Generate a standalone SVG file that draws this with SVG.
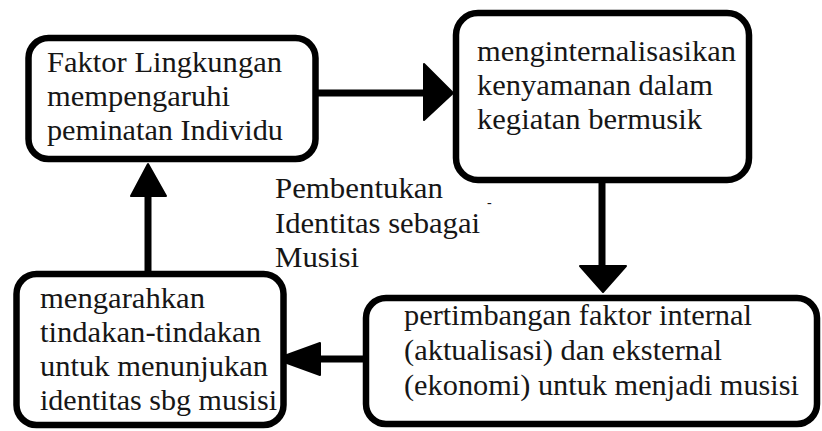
<svg xmlns="http://www.w3.org/2000/svg" width="822" height="431" viewBox="0 0 822 431">
<style>
.box{fill:#fff;stroke:#000;stroke-width:6.5}
.ln{stroke:#000;stroke-width:7;fill:none}
.hd{fill:#000;stroke:#000;stroke-width:2;stroke-linejoin:round}
.t{font-family:'Liberation Serif','DejaVu Serif','Noto Serif','Times New Roman',serif;font-size:29px;fill:#161616}
</style>
<rect x="0" y="0" width="822" height="431" fill="#fff"/>
<g id="connectors">
<line class="ln" x1="316" y1="93" x2="426" y2="93"/>
<polygon class="hd" points="424,64 453,93 424,120"/>
<line class="ln" x1="602" y1="181" x2="602" y2="268"/>
<polygon class="hd" points="580,266 626,266 603,292"/>
<line class="ln" x1="365" y1="359" x2="318" y2="359"/>
<polygon class="hd" points="320,343 320,375 276,359"/>
<line class="ln" x1="148" y1="273" x2="148" y2="193"/>
<polygon class="hd" points="131,196 166,196 148,164"/>
</g>
<g id="node-faktor">
<rect class="box" x="28.5" y="38" width="287" height="121" rx="20"/>
<text class="t" x="47" y="72" textLength="235" lengthAdjust="spacingAndGlyphs">Faktor Lingkungan</text>
<text class="t" x="47" y="106" textLength="183" lengthAdjust="spacingAndGlyphs">mempengaruhi</text>
<text class="t" x="47" y="140" textLength="236" lengthAdjust="spacingAndGlyphs">peminatan Individu</text>
</g>
<g id="node-menginternalisasikan">
<rect class="box" x="456" y="13" width="293" height="167" rx="22"/>
<text class="t" x="477" y="61" textLength="259" lengthAdjust="spacingAndGlyphs">menginternalisasikan</text>
<text class="t" x="477" y="95" textLength="236" lengthAdjust="spacingAndGlyphs">kenyamanan dalam</text>
<text class="t" x="477" y="129" textLength="225" lengthAdjust="spacingAndGlyphs">kegiatan bermusik</text>
</g>
<g id="node-pertimbangan">
<rect class="box" x="366" y="298" width="451" height="126" rx="20"/>
<text class="t" x="404" y="325" textLength="348" lengthAdjust="spacingAndGlyphs">pertimbangan faktor internal</text>
<text class="t" x="404" y="360" textLength="318" lengthAdjust="spacingAndGlyphs">(aktualisasi) dan eksternal</text>
<text class="t" x="404" y="395" textLength="395" lengthAdjust="spacingAndGlyphs">(ekonomi) untuk menjadi musisi</text>
</g>
<g id="node-mengarahkan">
<rect class="box" x="16.5" y="274" width="267" height="151" rx="20"/>
<text class="t" x="40" y="308" textLength="165" lengthAdjust="spacingAndGlyphs">mengarahkan</text>
<text class="t" x="40" y="342" textLength="221" lengthAdjust="spacingAndGlyphs">tindakan-tindakan</text>
<text class="t" x="40" y="376" textLength="228" lengthAdjust="spacingAndGlyphs">untuk menunjukan</text>
<text class="t" x="40" y="410" textLength="237" lengthAdjust="spacingAndGlyphs">identitas sbg musisi</text>
</g>
<g id="label">
<text class="t" x="275" y="198" textLength="168" lengthAdjust="spacingAndGlyphs">Pembentukan</text>
<text class="t" x="275" y="233" textLength="205" lengthAdjust="spacingAndGlyphs">Identitas sebagai</text>
<text class="t" x="275" y="267" textLength="84" lengthAdjust="spacingAndGlyphs">Musisi</text>
<text class="t" x="487" y="207" style="font-size:14px">-</text>
</g>
</svg>
